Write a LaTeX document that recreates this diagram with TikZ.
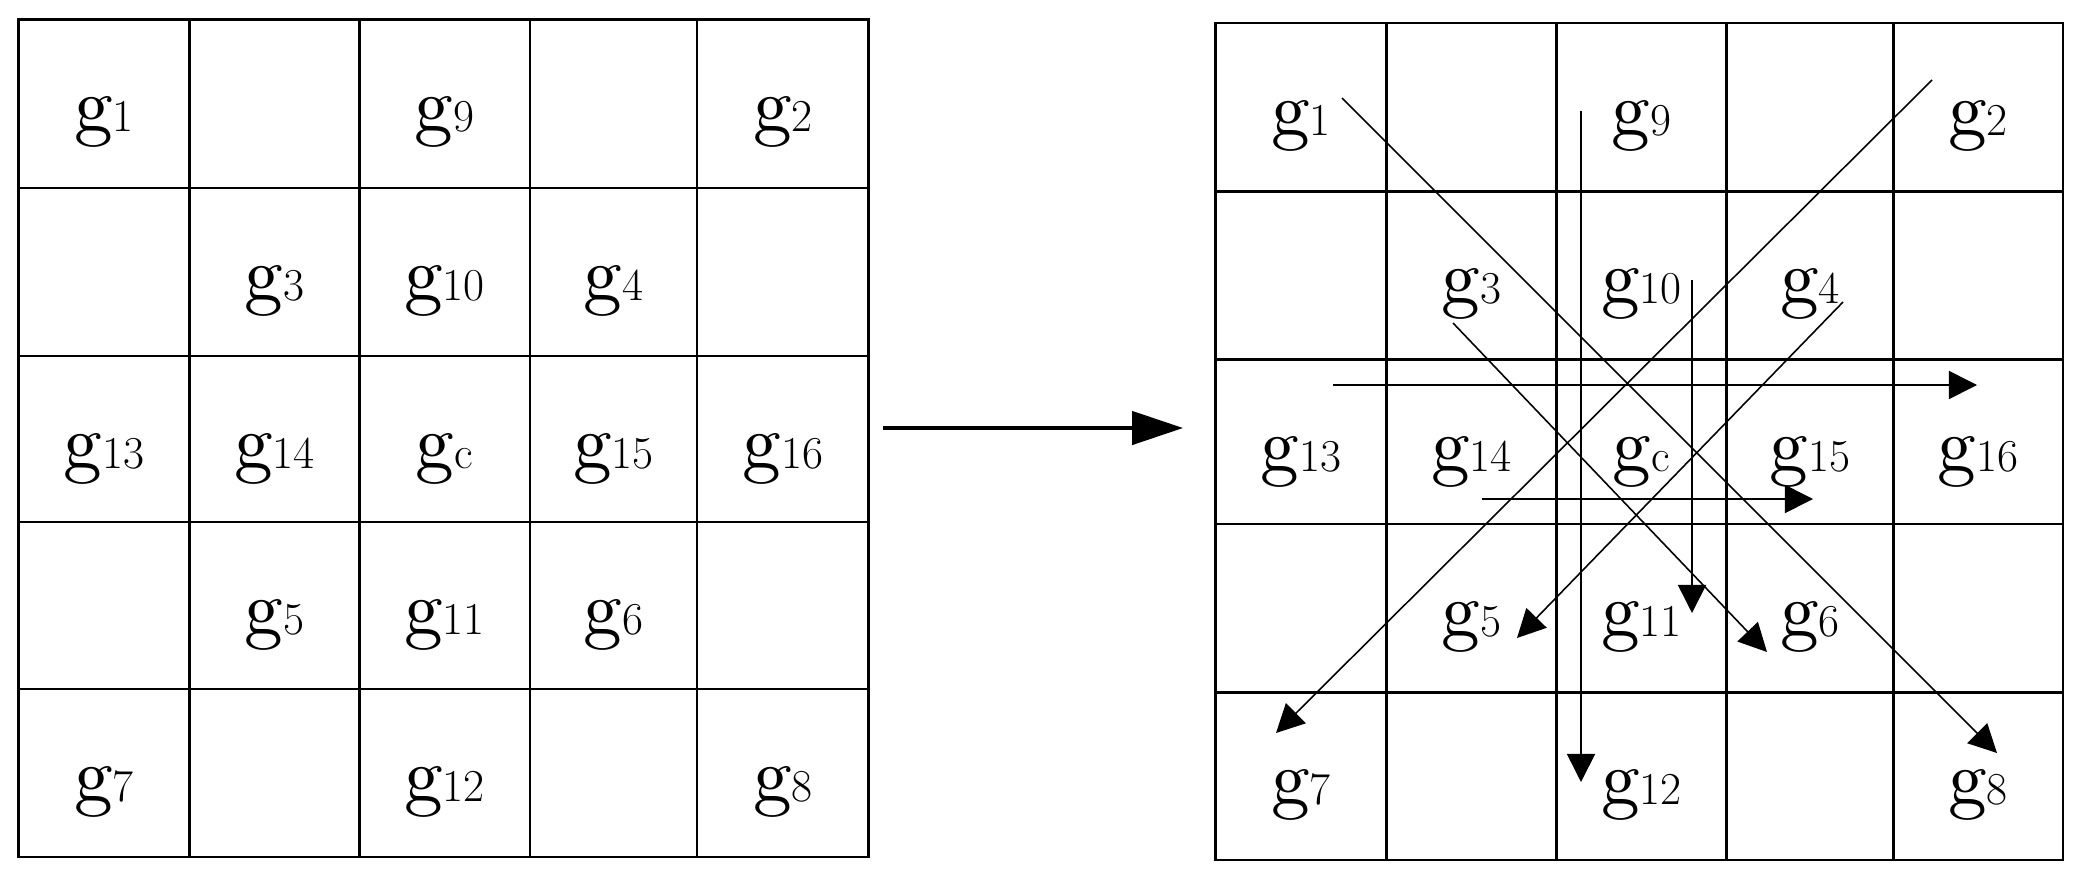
\documentclass[tikz,border=0pt]{standalone}
\usepackage{fontspec}
\newfontfamily\lmten{lmroman10-regular.otf}
\usetikzlibrary{arrows.meta}
\newcommand\glab[1]{g{\normalfont\fontsize{26}{30}\selectfont #1}}
\begin{document}
\begin{tikzpicture}[x=0.02cm,y=-0.02cm,
  gridline/.style={line width=1.55pt},
  lbl/.style={inner sep=0pt,anchor=base,font=\lmten\fontsize{44}{50}\selectfont},
  flow/.style={line width=0.9pt,-{Triangle[length=16pt,width=16pt]}},
  bigflow/.style={line width=1.9pt,-{Triangle[length=29pt,width=19pt]}}]
\useasboundingbox (0,0) rectangle (2083,880);
% ---------- left grid ----------
\draw[gridline] (18.5,19.5) rectangle (868.5,857);
\foreach \x in {189.5,359.5,530,697} \draw[gridline] (\x,19.5) -- (\x,857);
\foreach \y in {188,356,522,689} \draw[gridline] (18.5,\y) -- (868.5,\y);
\node[lbl] (l1)  at (104,131.5)   {\glab{1}};
\node[lbl] (l9)  at (444.5,131.5) {\glab{9}};
\node[lbl] (l2)  at (783,131.5)   {\glab{2}};
\node[lbl] (l3)  at (274.5,300)   {\glab{3}};
\node[lbl] (l10) at (444.5,300)   {\glab{10}};
\node[lbl] (l4)  at (613.5,300)   {\glab{4}};
\node[lbl] (l13) at (104,468)     {\glab{13}};
\node[lbl] (l14) at (274.5,468)   {\glab{14}};
\node[lbl] (lc)  at (444.5,468)   {\glab{c}};
\node[lbl] (l15) at (613.5,468)   {\glab{15}};
\node[lbl] (l16) at (783,468)     {\glab{16}};
\node[lbl] (l5)  at (274.5,634)   {\glab{5}};
\node[lbl] (l11) at (444.5,634)   {\glab{11}};
\node[lbl] (l6)  at (613.5,634)   {\glab{6}};
\node[lbl] (l7)  at (104,801)     {\glab{7}};
\node[lbl] (l12) at (444.5,801)   {\glab{12}};
\node[lbl] (l8)  at (783,801)     {\glab{8}};
% ---------- main arrow ----------
\coordinate (ms) at (883,428);
\coordinate (me) at (1183,428);
\draw[bigflow] (ms) -- (me);
% ---------- right grid ----------
\draw[gridline] (1215.5,23) rectangle (2063,860);
\foreach \x in {1386.5,1556.5,1726.5,1893.5} \draw[gridline] (\x,23) -- (\x,860);
\foreach \y in {191.5,359.5,524,692.5} \draw[gridline] (1215.5,\y) -- (2063,\y);
\node[lbl] (r1)  at (1301,135)    {\glab{1}};
\node[lbl] (r9)  at (1641.5,135)  {\glab{9}};
\node[lbl] (r2)  at (1978,135)    {\glab{2}};
\node[lbl] (r3)  at (1471.5,303.5){\glab{3}};
\node[lbl] (r10) at (1641.5,303.5){\glab{10}};
\node[lbl] (r4)  at (1810,303.5)  {\glab{4}};
\node[lbl] (r13) at (1301,471)    {\glab{13}};
\node[lbl] (r14) at (1471.5,471)  {\glab{14}};
\node[lbl] (rc)  at (1641.5,471)  {\glab{c}};
\node[lbl] (r15) at (1810,471)    {\glab{15}};
\node[lbl] (r16) at (1978,471)    {\glab{16}};
\node[lbl] (r5)  at (1471.5,636)  {\glab{5}};
\node[lbl] (r11) at (1641.5,636)  {\glab{11}};
\node[lbl] (r6)  at (1810,636)    {\glab{6}};
\node[lbl] (r7)  at (1301,804.5)  {\glab{7}};
\node[lbl] (r12) at (1641.5,804.5){\glab{12}};
\node[lbl] (r8)  at (1978,804.5)  {\glab{8}};
% ---------- arrows in right grid ----------
\coordinate (a1s) at (1342,98);   \coordinate (a1e) at (1997,753);
\coordinate (a2s) at (1932,80);   \coordinate (a2e) at (1276,733);
\coordinate (a3s) at (1581,111);  \coordinate (a3e) at (1581,782);
\coordinate (a4s) at (1692,280);  \coordinate (a4e) at (1692,613);
\coordinate (a5s) at (1453,323);  \coordinate (a5e) at (1767,652);
\coordinate (a6s) at (1843,302);  \coordinate (a6e) at (1517,638);
\coordinate (a7s) at (1333,385);  \coordinate (a7e) at (1977,385);
\coordinate (a8s) at (1482,499);  \coordinate (a8e) at (1813,499);
\foreach \i in {1,...,8} \draw[flow] (a\i s) -- (a\i e);
\end{tikzpicture}
\end{document}
